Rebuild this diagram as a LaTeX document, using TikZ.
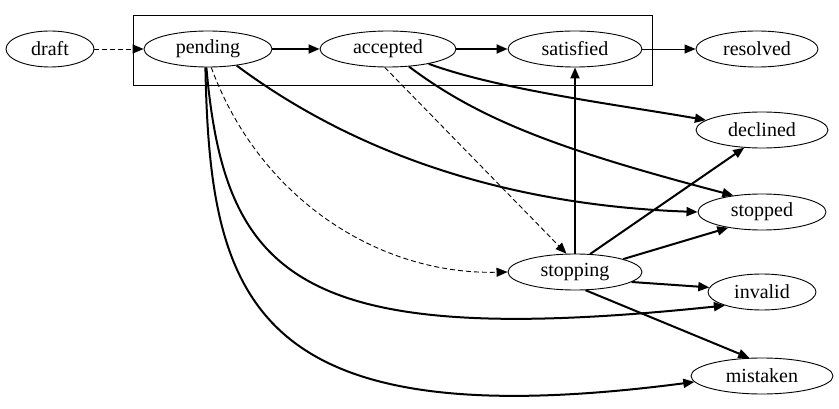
\documentclass[tikz,border=0pt]{standalone}
\usepackage{fontspec}
\setmainfont{Liberation Serif}
\usetikzlibrary{shapes.geometric,arrows.meta}
\begin{document}
\begin{tikzpicture}[x=1pt,y=-1pt,
  st/.style={draw,line width=0.9pt,ellipse,inner sep=0pt,minimum height=36pt,font=\fontsize{20}{22}\selectfont},
  ar/.style={-{Triangle[length=11pt,width=9pt]}},
  thk/.style={ar,line width=2pt},
  thn/.style={ar,line width=0.9pt},
  dsh/.style={ar,line width=0.9pt,dash pattern=on 5pt off 3pt}]
\useasboundingbox (0,0) rectangle (839,409);
\draw[line width=0.9pt] (133,15) rectangle (652,85);
\node[st,minimum width=88pt] (draft) at (50,49) {draft};
\node[st,minimum width=128pt] (pending) at (208,49) {pending};
\node[st,minimum width=136pt] (accepted) at (388,49) {accepted};
\node[st,minimum width=134pt] (satisfied) at (575,49) {satisfied};
\node[st,minimum width=122pt] (resolved) at (757,49) {resolved};
\node[st,minimum width=132pt] (declined) at (762,130) {declined};
\node[st,minimum width=128pt] (stopped) at (762,212) {stopped};
\node[st,minimum width=134pt] (stopping) at (575,272) {stopping};
\node[st,minimum width=108pt] (invalid) at (762,292) {invalid};
\node[st,minimum width=142pt] (mistaken) at (762,376) {mistaken};
\draw[dsh] (draft) -- (pending);
\draw[thk] (pending) -- (accepted);
\draw[thk] (accepted) -- (satisfied);
\draw[thn] (satisfied) -- (resolved);
\draw[thk] (pending.-30) .. controls (350,150) and (500,205) .. (stopped.west);
\draw[dsh] (pending.-80) .. controls (260,200) and (380,275) .. (stopping.west);
\draw[thk] (pending.-95) .. controls (225,280) and (300,350) .. (invalid.-160);
\draw[thk] (pending.-98) .. controls (210,300) and (250,440) .. (mistaken.-175);
\draw[thk] (accepted.-20) .. controls (500,90) and (620,105) .. (declined.170);
\draw[thk] (accepted.-40) .. controls (480,120) and (560,150) .. (stopped.150);
\draw[dsh] (accepted.-100) -- (stopping.115);
\draw[thk] (stopping) -- (satisfied);
\draw[thk] (stopping.50) -- (declined.-135);
\draw[thk] (stopping.15) -- (stopped.-155);
\draw[thk] (stopping.-10) -- (invalid.175);
\draw[thk] (stopping.-60) -- (mistaken.125);
\end{tikzpicture}
\end{document}
